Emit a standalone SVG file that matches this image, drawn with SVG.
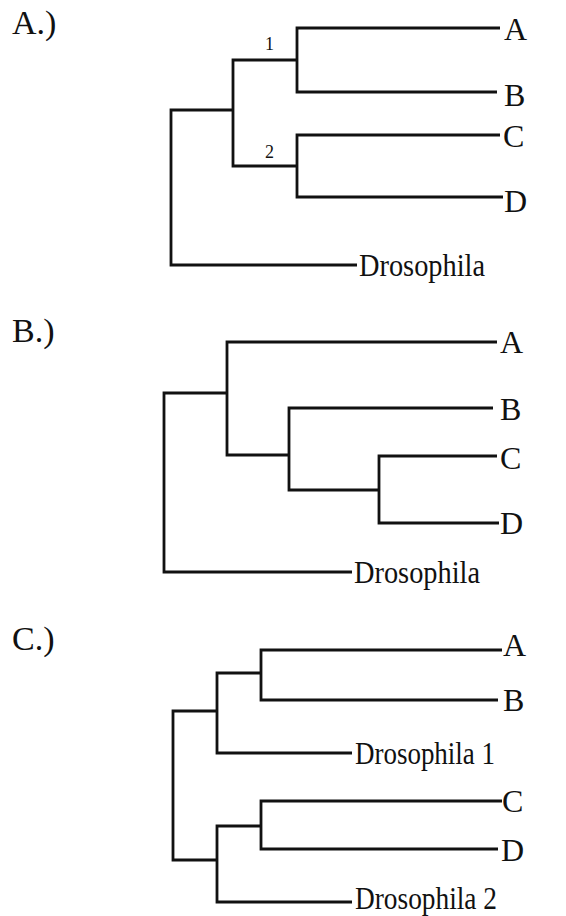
<svg xmlns="http://www.w3.org/2000/svg" width="566" height="916" viewBox="0 0 566 916">
  <style>
    .bg { fill: #ffffff; }
    .branch { fill: none; stroke: #111; stroke-width: 2.8; stroke-linejoin: miter; stroke-linecap: butt; }
    .panel { font-family: "Liberation Serif", "Times New Roman", serif; font-size: 34px; fill: #111; }
    .leaf { font-family: "Liberation Serif", "Times New Roman", serif; font-size: 32px; fill: #111; }
    .num { font-family: "Liberation Serif", "Times New Roman", serif; font-size: 18px; fill: #111; }
  </style>
  <rect class="bg" x="0" y="0" width="566" height="916"/>

  <!-- Tree A: ((A,B)1,(C,D)2),Drosophila -->
  <g id="treeA">
    <text class="panel" x="12" y="34">A.)</text>
    <g id="connectorsA">
      <path class="branch" d="M500,28 H297 V92 H497"/>
      <path class="branch" d="M500,135 H297 V197 H503"/>
      <path class="branch" d="M297,60 H233 V166 H297"/>
      <path class="branch" d="M233,110 H171 V265 H357"/>
    </g>
    <g id="A-node1"><text class="num" x="265" y="50">1</text></g>
    <g id="A-node2"><text class="num" x="265" y="158">2</text></g>
    <g id="A-leafA"><text class="leaf" x="504" y="40">A</text></g>
    <g id="A-leafB"><text class="leaf" x="504" y="106">B</text></g>
    <g id="A-leafC"><text class="leaf" x="503" y="147">C</text></g>
    <g id="A-leafD"><text class="leaf" x="504" y="212">D</text></g>
    <g id="A-leafDros"><text class="leaf" x="359" y="276" textLength="126" lengthAdjust="spacingAndGlyphs">Drosophila</text></g>
  </g>

  <!-- Tree B: (A,(B,(C,D))),Drosophila -->
  <g id="treeB">
    <text class="panel" x="12" y="342">B.)</text>
    <g id="connectorsB">
      <path class="branch" d="M497,456 H379 V523 H499"/>
      <path class="branch" d="M493,408 H289 V490 H379"/>
      <path class="branch" d="M497,342 H227 V455 H289"/>
      <path class="branch" d="M227,393 H164 V572 H352"/>
    </g>
    <g id="B-leafA"><text class="leaf" x="500" y="353">A</text></g>
    <g id="B-leafB"><text class="leaf" x="500" y="420">B</text></g>
    <g id="B-leafC"><text class="leaf" x="500" y="469">C</text></g>
    <g id="B-leafD"><text class="leaf" x="500" y="534">D</text></g>
    <g id="B-leafDros"><text class="leaf" x="354" y="583" textLength="126" lengthAdjust="spacingAndGlyphs">Drosophila</text></g>
  </g>

  <!-- Tree C: ((A,B),Drosophila 1),((C,D),Drosophila 2) -->
  <g id="treeC">
    <text class="panel" x="12" y="650">C.)</text>
    <g id="connectorsC">
      <path class="branch" d="M502,650 H261 V700 H498"/>
      <path class="branch" d="M261,673 H217 V753 H352"/>
      <path class="branch" d="M502,801 H261 V849 H498"/>
      <path class="branch" d="M261,826 H217 V902 H352"/>
      <path class="branch" d="M217,711 H173 V860 H217"/>
    </g>
    <g id="C-leafA"><text class="leaf" x="503" y="656">A</text></g>
    <g id="C-leafB"><text class="leaf" x="503" y="711">B</text></g>
    <g id="C-leafDros1"><text class="leaf" x="355" y="764" textLength="140" lengthAdjust="spacingAndGlyphs">Drosophila 1</text></g>
    <g id="C-leafC"><text class="leaf" x="502" y="812">C</text></g>
    <g id="C-leafD"><text class="leaf" x="501" y="861">D</text></g>
    <g id="C-leafDros2"><text class="leaf" x="355" y="909" textLength="142" lengthAdjust="spacingAndGlyphs">Drosophila 2</text></g>
  </g>
</svg>
